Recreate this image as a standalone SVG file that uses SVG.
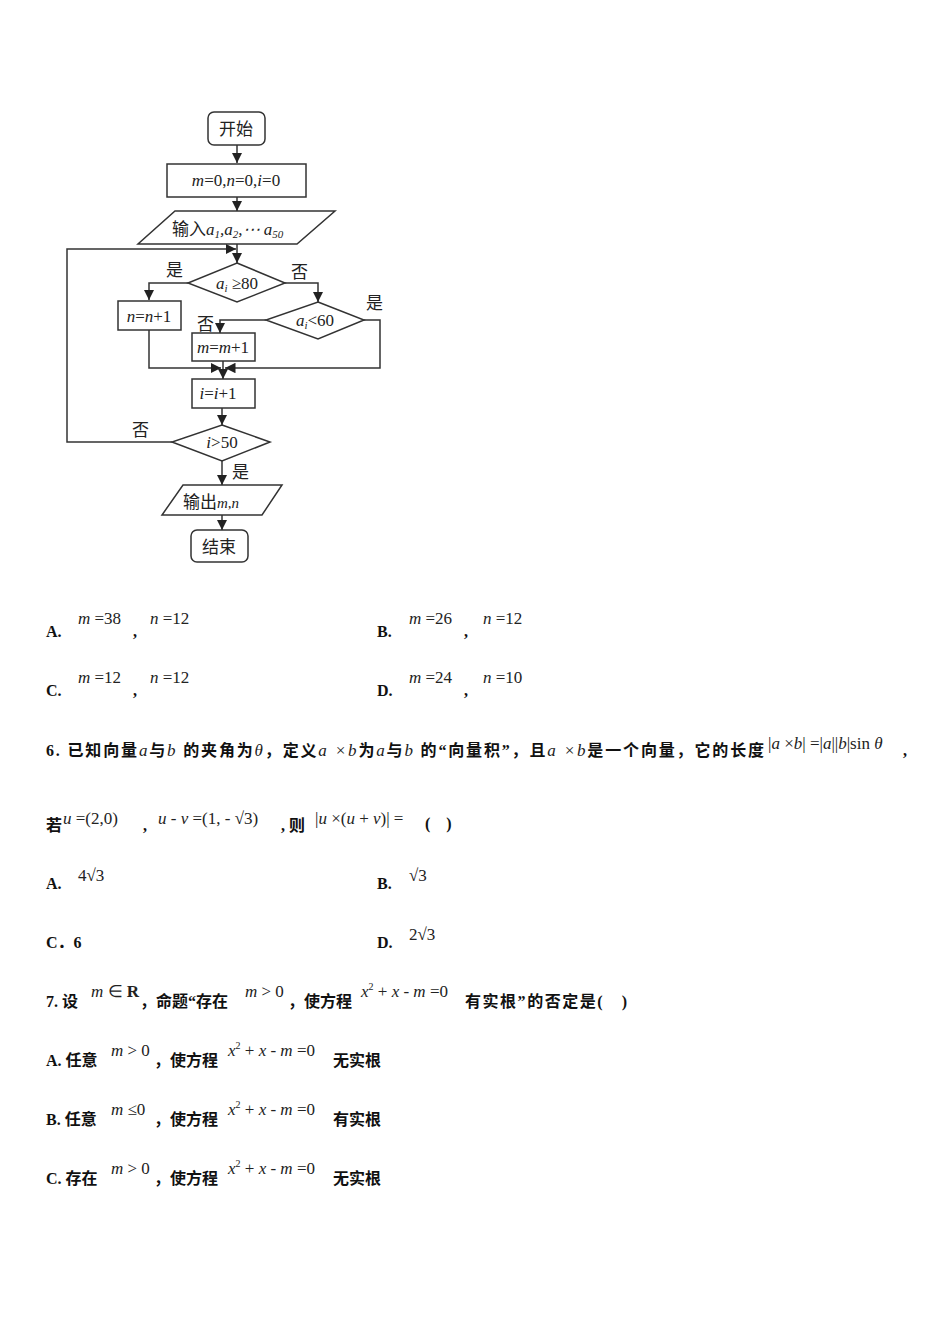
<svg xmlns="http://www.w3.org/2000/svg" width="950" height="1344" viewBox="0 0 950 1344">
<style>
.s{fill:#fff;stroke:#333;stroke-width:1.5}
.c{fill:none;stroke:#333;stroke-width:1.5}
.t{font-family:"Noto Sans CJK SC",sans-serif;font-size:17px;fill:#222}
.m{font-family:"Liberation Serif",serif;font-style:italic;font-size:17px;fill:#222}
.q{font-family:"Liberation Serif","Noto Sans CJK SC",serif;font-size:16px;font-weight:bold;fill:#111}
.x{font-family:"Liberation Serif",serif;font-size:17px;fill:#222}
.r{font-style:normal}
.sub{font-size:11px}
</style>
<defs><marker id="a" viewBox="0 0 10 10" refX="10" refY="5" markerWidth="7" markerHeight="7" orient="auto"><path d="M0,0L10,5L0,10z" fill="#222"/></marker></defs>
<g id="start"><rect class="s" x="208" y="112" width="57" height="33" rx="6"/><text class="t" x="236" y="135" text-anchor="middle">开始</text></g>
<g id="init"><rect class="s" x="167" y="164" width="139" height="33"/><text class="m" x="236" y="186" text-anchor="middle">m<tspan class="r">=0,</tspan>n<tspan class="r">=0,</tspan>i<tspan class="r">=0</tspan></text></g>
<g id="input"><polygon class="s" points="175,211 335,211 297,244 138,244"/><text class="t" x="172" y="235">输入<tspan class="m">a</tspan><tspan class="m sub" dy="3">1</tspan><tspan class="m" dy="-3">,a</tspan><tspan class="m sub" dy="3">2</tspan><tspan class="m" dy="-3">,⋯ a</tspan><tspan class="m sub" dy="3">50</tspan></text></g>
<g id="d1"><polygon class="s" points="237,263 285,283 237,302 188,283"/><text class="m" x="237" y="289" text-anchor="middle">a<tspan class="sub" dy="3">i</tspan><tspan class="r" dy="-3"> ≥80</tspan></text></g>
<g id="n1"><rect class="s" x="118" y="301" width="63" height="29"/><text class="m" x="149" y="322" text-anchor="middle">n<tspan class="r">=</tspan>n<tspan class="r">+1</tspan></text></g>
<g id="d2"><polygon class="s" points="318,302 364,320 318,339 266,320"/><text class="m" x="315" y="326" text-anchor="middle">a<tspan class="sub" dy="3">i</tspan><tspan class="r" dy="-3">&lt;60</tspan></text></g>
<g id="m1"><rect class="s" x="192" y="333" width="63" height="28"/><text class="m" x="223" y="353" text-anchor="middle">m<tspan class="r">=</tspan>m<tspan class="r">+1</tspan></text></g>
<g id="inc"><rect class="s" x="192" y="379" width="63" height="29"/><text class="m" x="218" y="399" text-anchor="middle">i<tspan class="r">=</tspan>i<tspan class="r">+1</tspan></text></g>
<g id="d3"><polygon class="s" points="222,425 270,442 222,461 172,442"/><text class="m" x="222" y="448" text-anchor="middle">i<tspan class="r">&gt;50</tspan></text></g>
<g id="out"><polygon class="s" points="183,485 282,485 262,515 162,515"/><text class="t" x="183" y="508">输出<tspan class="m" style="font-size:15px">m,n</tspan></text></g>
<g id="end"><rect class="s" x="191" y="530" width="57" height="32" rx="6"/><text class="t" x="219" y="553" text-anchor="middle">结束</text></g>
<g id="connectors">
<path class="c" d="M237,145V163" marker-end="url(#a)"/>
<path class="c" d="M237,197V211" marker-end="url(#a)"/>
<path class="c" d="M237,244V263" marker-end="url(#a)"/>
<path class="c" d="M172,442H67V249H236" marker-end="url(#a)"/>
<path class="c" d="M188,283H149V300" marker-end="url(#a)"/>
<path class="c" d="M285,283H318V302" marker-end="url(#a)"/>
<path class="c" d="M266,320H220V333" marker-end="url(#a)"/>
<path class="c" d="M149,330V368H221" marker-end="url(#a)"/>
<path class="c" d="M364,320H380V368H225" marker-end="url(#a)"/>
<path class="c" d="M223,361V368"/>
<path class="c" d="M223,368V379" marker-end="url(#a)"/>
<path class="c" d="M222,408V425" marker-end="url(#a)"/>
<path class="c" d="M222,461V485" marker-end="url(#a)"/>
<path class="c" d="M222,515V530" marker-end="url(#a)"/>
<text class="t" x="166" y="276">是</text><text class="t" x="291" y="278">否</text>
<text class="t" x="366" y="309">是</text><text class="t" x="197" y="330">否</text>
<text class="t" x="132" y="436">否</text><text class="t" x="232" y="478">是</text>
</g>
<g id="text">
<text class="q" x="46" y="637">A.</text><text class="x" x="78" y="624"><tspan font-style="italic">m</tspan> =38</text><text class="q" x="133" y="637">,</text><text class="x" x="150" y="624"><tspan font-style="italic">n</tspan> =12</text>
<text class="q" x="377" y="637">B.</text><text class="x" x="409" y="624"><tspan font-style="italic">m</tspan> =26</text><text class="q" x="464" y="637">,</text><text class="x" x="483" y="624"><tspan font-style="italic">n</tspan> =12</text>
<text class="q" x="46" y="696">C.</text><text class="x" x="78" y="683"><tspan font-style="italic">m</tspan> =12</text><text class="q" x="133" y="696">,</text><text class="x" x="150" y="683"><tspan font-style="italic">n</tspan> =12</text>
<text class="q" x="377" y="696">D.</text><text class="x" x="409" y="683"><tspan font-style="italic">m</tspan> =24</text><text class="q" x="464" y="696">,</text><text class="x" x="483" y="683"><tspan font-style="italic">n</tspan> =10</text>
<text class="q" x="46" y="756" textLength="718" lengthAdjust="spacing">6. 已知向量<tspan class="m" font-weight="normal">a</tspan>与<tspan class="m" font-weight="normal">b</tspan> 的夹角为<tspan class="m" font-weight="normal">θ</tspan>，定义<tspan class="m" font-weight="normal">a ×b</tspan>为<tspan class="m" font-weight="normal">a</tspan>与<tspan class="m" font-weight="normal">b</tspan> 的“向量积”，且<tspan class="m" font-weight="normal">a ×b</tspan>是一个向量，它的长度</text>
<text class="x" x="768" y="749">|<tspan font-style="italic">a</tspan> ×<tspan font-style="italic">b</tspan>| =|<tspan font-style="italic">a</tspan>||<tspan font-style="italic">b</tspan>|sin <tspan font-style="italic">θ</tspan></text><text class="q" x="903" y="756">,</text>
<text class="q" x="46" y="831">若</text><text class="x" x="63" y="824"><tspan font-style="italic">u</tspan> =(2,0)</text><text class="q" x="143" y="831">,</text>
<text class="x" x="158" y="824"><tspan font-style="italic">u</tspan> - <tspan font-style="italic">v</tspan> =(1, - √3)</text><text class="q" x="281" y="831">, 则</text>
<text class="x" x="315" y="824">|<tspan font-style="italic">u</tspan> ×(<tspan font-style="italic">u</tspan> + <tspan font-style="italic">v</tspan>)| =</text><text class="q" x="425" y="829">(　)</text>
<text class="q" x="46" y="889">A.</text><text class="x" x="78" y="881">4√3</text>
<text class="q" x="377" y="889">B.</text><text class="x" x="409" y="881">√3</text>
<text class="q" x="46" y="948">C．6</text>
<text class="q" x="377" y="948">D.</text><text class="x" x="409" y="940">2√3</text>
<text class="q" x="46" y="1007">7. 设</text><text class="x" x="91" y="997"><tspan font-style="italic">m</tspan> ∈ <tspan font-weight="bold">R</tspan></text>
<text class="q" x="140" y="1007">，命题“存在</text><text class="x" x="245" y="997"><tspan font-style="italic">m</tspan> &gt; 0</text>
<text class="q" x="288" y="1007">，使方程</text><text class="x" x="361" y="997"><tspan font-style="italic">x</tspan><tspan style="font-size:10px" dy="-7">2</tspan><tspan dy="7"> + </tspan><tspan font-style="italic">x</tspan> - <tspan font-style="italic">m</tspan> =0</text>
<text class="q" x="465" y="1007" textLength="162" lengthAdjust="spacing">有实根”的否定是(　)</text>
<text class="q" x="46" y="1066">A. 任意</text><text class="x" x="111" y="1056"><tspan font-style="italic">m</tspan> &gt; 0</text><text class="q" x="154" y="1066">，使方程</text><text class="x" x="228" y="1056"><tspan font-style="italic">x</tspan><tspan style="font-size:10px" dy="-7">2</tspan><tspan dy="7"> + </tspan><tspan font-style="italic">x</tspan> - <tspan font-style="italic">m</tspan> =0</text><text class="q" x="333" y="1066">无实根</text>
<text class="q" x="46" y="1125">B. 任意</text><text class="x" x="111" y="1115"><tspan font-style="italic">m</tspan> ≤0</text><text class="q" x="154" y="1125">，使方程</text><text class="x" x="228" y="1115"><tspan font-style="italic">x</tspan><tspan style="font-size:10px" dy="-7">2</tspan><tspan dy="7"> + </tspan><tspan font-style="italic">x</tspan> - <tspan font-style="italic">m</tspan> =0</text><text class="q" x="333" y="1125">有实根</text>
<text class="q" x="46" y="1184">C. 存在</text><text class="x" x="111" y="1174"><tspan font-style="italic">m</tspan> &gt; 0</text><text class="q" x="154" y="1184">，使方程</text><text class="x" x="228" y="1174"><tspan font-style="italic">x</tspan><tspan style="font-size:10px" dy="-7">2</tspan><tspan dy="7"> + </tspan><tspan font-style="italic">x</tspan> - <tspan font-style="italic">m</tspan> =0</text><text class="q" x="333" y="1184">无实根</text>
</g>
</svg>
